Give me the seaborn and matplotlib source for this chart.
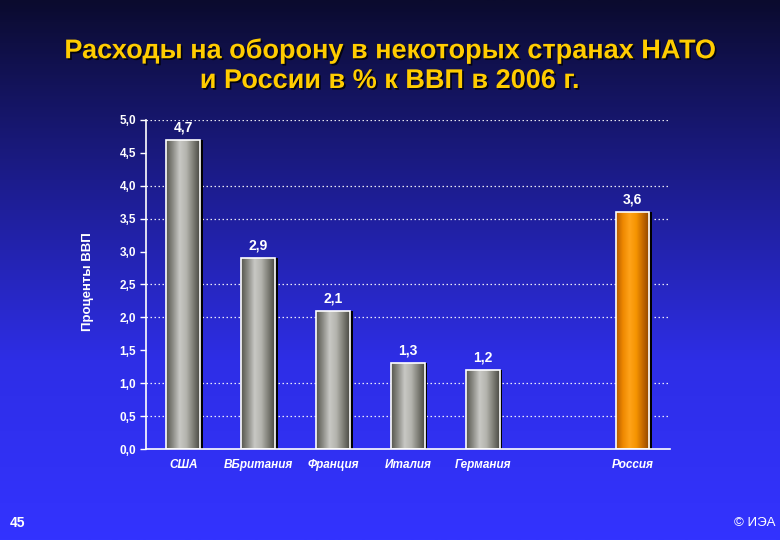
import numpy as np
import pandas as pd
import seaborn as sns
import matplotlib
matplotlib.use('Agg')
import matplotlib.pyplot as plt
import matplotlib.patheffects as pe
from matplotlib.colors import LinearSegmentedColormap
from matplotlib.ticker import FuncFormatter

# data
countries = ['США', 'ВБритания', 'Франция', 'Италия', 'Германия', 'Россия']
spending = [4.7, 2.9, 2.1, 1.3, 1.2, 3.6]
# empty slot between Германия and Россия
order = ['США', 'ВБритания', 'Франция', 'Италия', 'Германия', ' ', 'Россия']
yticks = [0.0, 0.5, 1.0, 1.5, 2.0, 2.5, 3.0, 3.5, 4.0, 4.5, 5.0]
grid_at = [0.5, 1.0, 2.0, 2.5, 3.5, 4.0, 5.0]

df = pd.DataFrame({'country': countries, 'pct': spending})

sns.set_theme(style='white')
plt.rcParams['font.family'] = ['Liberation Sans', 'DejaVu Sans']

fig = plt.figure(figsize=(7.8, 5.4), dpi=100)

# slide background: navy at the top, bright blue at the bottom
bg = fig.add_axes([0, 0, 1, 1], zorder=-10)
bg_cmap = LinearSegmentedColormap.from_list('bg', ['#0b0b2e', '#1c1c8c', '#2e2ee6', '#3333ff'])
bg.imshow(np.linspace(0, 1, 256).reshape(-1, 1), aspect='auto', cmap=bg_cmap,
          extent=(0, 1, 0, 1), origin='upper')
bg.axis('off')

ax = fig.add_axes([0.187, 0.1685, 0.672, 0.6093])
ax.patch.set_alpha(0)

sns.barplot(data=df, x='country', y='pct', order=order, width=0.45,
            color='#999999', saturation=1, ax=ax)

gray_cmap = LinearSegmentedColormap.from_list('gray', ['#55554d', '#8c8c86', '#c8c8c4', '#b4b4ae', '#808078', '#4a4a44'])
orange_cmap = LinearSegmentedColormap.from_list('orng', ['#b35a00', '#ee8800', '#ffa31a', '#f59400', '#c46800', '#8a4400'])

bars = list(ax.patches)
for patch in bars:
    h = patch.get_height()
    if not np.isfinite(h) or h <= 0:
        continue
    x0 = patch.get_x()
    w = patch.get_width()
    is_russia = abs(x0 + w / 2 - 6) < 0.1
    cmap = orange_cmap if is_russia else gray_cmap
    # dark shadow on the right side of the cylinder
    ax.bar(x0 + w, h, width=0.035, align='edge', color='black', linewidth=0, zorder=1.5)
    img = ax.imshow(np.linspace(0, 1, 100).reshape(1, -1), cmap=cmap, aspect='auto',
                    extent=(x0, x0 + w, 0, h), zorder=2)
    img.set_clip_path(patch)
    patch.set_facecolor('none')
    patch.set_edgecolor('white')
    patch.set_linewidth(1.2)
    patch.set_zorder(3)
    ax.annotate(f'{h:.1f}'.replace('.', ','), (x0 + w / 2, h), xytext=(0, 4),
                textcoords='offset points', ha='center', va='bottom',
                color='white', fontsize=10, fontweight='bold')

ax.set_xlim(-0.5, 6.5)
ax.set_ylim(0, 5.0)

for y in grid_at:
    ax.axhline(y, color='white', linestyle=(0, (1.2, 2)), linewidth=0.9, alpha=0.9, zorder=0.5)

for side in ['top', 'right']:
    ax.spines[side].set_visible(False)
for side in ['left', 'bottom']:
    ax.spines[side].set_color('white')
    ax.spines[side].set_linewidth(1.2)

ax.set_yticks(yticks)
ax.yaxis.set_major_formatter(FuncFormatter(lambda v, p: f'{v:.1f}'.replace('.', ',')))
ax.tick_params(axis='y', colors='white', labelsize=8.5, length=4, width=1, direction='out', left=True, pad=3)
ax.tick_params(axis='x', colors='white', labelsize=8.5, length=0, pad=7)
for lbl in ax.get_yticklabels():
    lbl.set_fontweight('bold')
for lbl in ax.get_xticklabels():
    lbl.set_fontweight('bold')
    lbl.set_fontstyle('italic')

ax.set_xlabel('')
ax.set_ylabel('Проценты ВВП', color='white', fontsize=9.5, fontweight='bold')
ax.yaxis.set_label_coords(-0.098, 0.51)

shadow = [pe.withSimplePatchShadow(offset=(1.2, -1.2), shadow_rgbFace='black', alpha=0.8)]
fig.text(0.5, 1 - 51 / 540, 'Расходы на оборону в некоторых странах НАТО', ha='center', va='center',
         color='#ffcc00', fontsize=19.5, fontweight='bold', path_effects=shadow)
fig.text(0.5, 1 - 81 / 540, 'и России в % к ВВП в 2006 г.', ha='center', va='center',
         color='#ffcc00', fontsize=19.5, fontweight='bold', path_effects=shadow)

fig.text(10 / 780, 1 - 523 / 540, '45', ha='left', va='center', color='white', fontsize=10, fontweight='bold')
fig.text(776 / 780, 1 - 523 / 540, '© ИЭА', ha='right', va='center', color='white', fontsize=9.5)

fig.savefig('out.png', dpi=100)
